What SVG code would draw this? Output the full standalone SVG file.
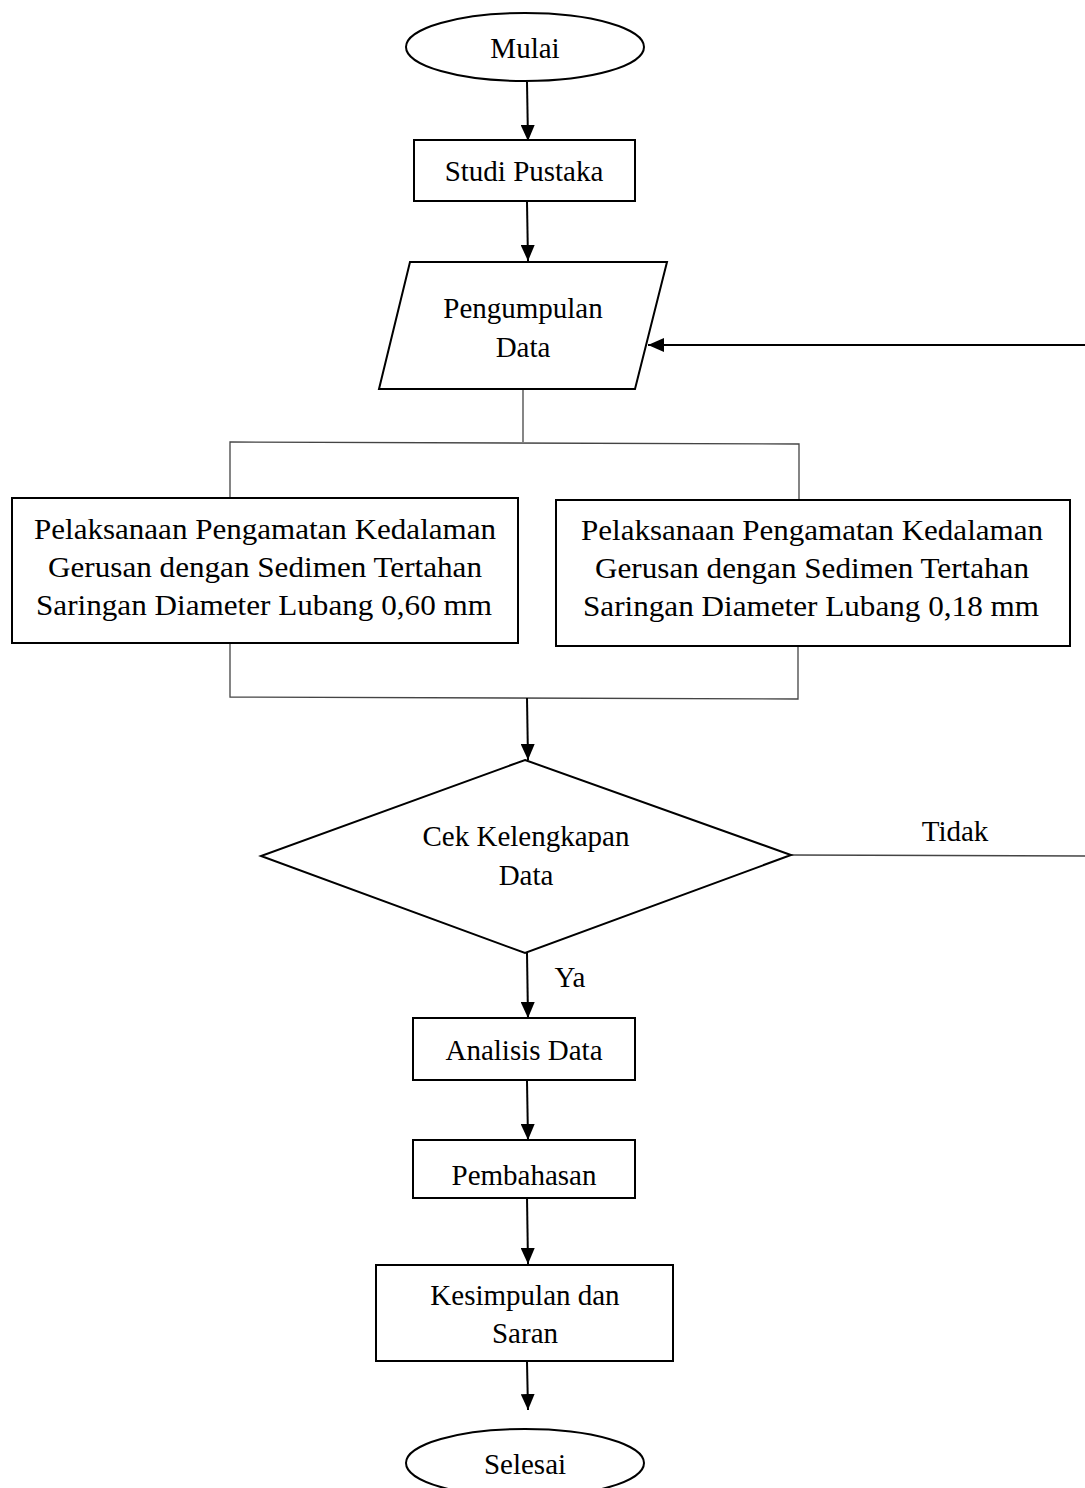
<svg xmlns="http://www.w3.org/2000/svg" width="1085" height="1488" viewBox="0 0 1085 1488">
<style>
.s{fill:#fff;stroke:#000;stroke-width:2}
.t{font-family:"Liberation Serif","Times New Roman",serif;font-size:29px;fill:#000;text-anchor:middle}
.c{fill:none;stroke:#000;stroke-width:2}
.f{fill:none;stroke:#444;stroke-width:1.3}
</style>
<defs>
<marker id="ah" markerWidth="16" markerHeight="14" refX="16" refY="7" orient="auto" markerUnits="userSpaceOnUse" viewBox="0 0 16 14">
<path d="M0,0 L16,7 L0,14 Z" fill="#000"/>
</marker>
</defs>
<rect width="1085" height="1488" fill="#fff"/>
<g id="connectors">
<line class="c" x1="527" y1="82" x2="528" y2="141" marker-end="url(#ah)"/>
<line class="c" x1="527" y1="202" x2="528" y2="261" marker-end="url(#ah)"/>
<line class="c" x1="1085" y1="345" x2="648" y2="345" marker-end="url(#ah)"/>
<polyline class="f" points="523,390 523,442"/>
<polyline class="f" points="230,498 230,442 799,444 799,500"/>
<polyline class="f" points="230,643 230,697 798,699 798,646"/>
<line class="c" x1="527" y1="698" x2="528" y2="760" marker-end="url(#ah)"/>
<line class="f" x1="791" y1="855" x2="1085" y2="856"/>
<line class="c" x1="527" y1="953" x2="528" y2="1018" marker-end="url(#ah)"/>
<line class="c" x1="527" y1="1081" x2="528" y2="1140" marker-end="url(#ah)"/>
<line class="c" x1="527" y1="1197" x2="528" y2="1264" marker-end="url(#ah)"/>
<line class="c" x1="527" y1="1362" x2="528" y2="1410" marker-end="url(#ah)"/>
<text class="t" x="955" y="841">Tidak</text>
<text class="t" x="570" y="987">Ya</text>
</g>
<g id="mulai">
<ellipse class="s" cx="525" cy="47" rx="119" ry="34"/>
<text class="t" x="525" y="58">Mulai</text>
</g>
<g id="studi">
<rect class="s" x="414" y="140" width="221" height="61"/>
<text class="t" x="524" y="181">Studi Pustaka</text>
</g>
<g id="pengumpulan">
<polygon class="s" points="410,262 667,262 635,389 379,389"/>
<text class="t" x="523" y="318">Pengumpulan</text>
<text class="t" x="523" y="357">Data</text>
</g>
<g id="pengamatan1">
<rect class="s" x="12" y="498" width="506" height="145"/>
<text class="t" x="265" y="539" textLength="462" lengthAdjust="spacingAndGlyphs">Pelaksanaan Pengamatan Kedalaman</text>
<text class="t" x="265" y="577" textLength="434" lengthAdjust="spacingAndGlyphs">Gerusan dengan Sedimen Tertahan</text>
<text class="t" x="264" y="615" textLength="456" lengthAdjust="spacingAndGlyphs">Saringan Diameter Lubang 0,60 mm</text>
</g>
<g id="pengamatan2">
<rect class="s" x="556" y="500" width="514" height="146"/>
<text class="t" x="812" y="540" textLength="462" lengthAdjust="spacingAndGlyphs">Pelaksanaan Pengamatan Kedalaman</text>
<text class="t" x="812" y="578" textLength="434" lengthAdjust="spacingAndGlyphs">Gerusan dengan Sedimen Tertahan</text>
<text class="t" x="811" y="616" textLength="456" lengthAdjust="spacingAndGlyphs">Saringan Diameter Lubang 0,18 mm</text>
</g>
<g id="cek">
<polygon class="s" points="525,760 791,855 525,953 261,856"/>
<text class="t" x="526" y="846">Cek Kelengkapan</text>
<text class="t" x="526" y="885">Data</text>
</g>
<g id="analisis">
<rect class="s" x="413" y="1018" width="222" height="62"/>
<text class="t" x="524" y="1060">Analisis Data</text>
</g>
<g id="pembahasan">
<rect class="s" x="413" y="1140" width="222" height="58"/>
<text class="t" x="524" y="1185">Pembahasan</text>
</g>
<g id="kesimpulan">
<rect class="s" x="376" y="1265" width="297" height="96"/>
<text class="t" x="525" y="1305">Kesimpulan dan</text>
<text class="t" x="525" y="1343">Saran</text>
</g>
<g id="selesai">
<ellipse class="s" cx="525" cy="1463" rx="119" ry="34"/>
<text class="t" x="525" y="1474">Selesai</text>
</g>
</svg>
